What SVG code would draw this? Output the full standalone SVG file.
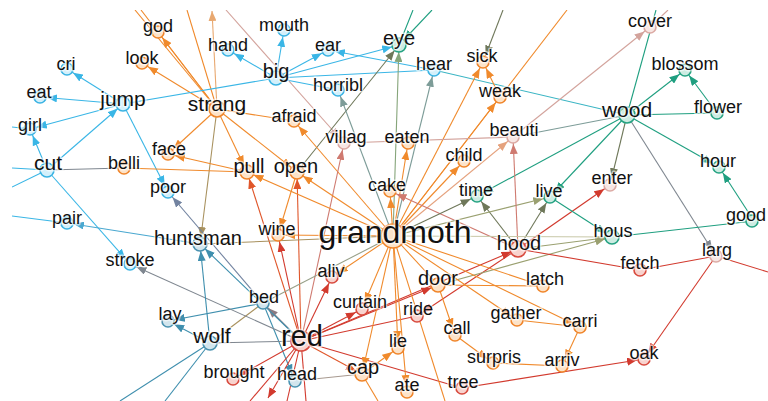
<svg xmlns="http://www.w3.org/2000/svg" width="768" height="401" viewBox="0 0 768 401">
<style>
line{fill:none;stroke-width:1.1}
.c{stroke:#3ab6e6}.c.a{marker-end:url(#mC)}
.c2{stroke:#3bb5c4}
.c3{stroke:#4aa8d0}.c3.a{marker-end:url(#mC3)}
.o{stroke:#f08a2c}.o.a{marker-end:url(#mO)}
.op{stroke:#e8a870}.op.a{marker-end:url(#mOe)}
.r{stroke:#d23a2e}.r.a{marker-end:url(#mR)}.r.e{marker-end:url(#mRe)}
.ro{stroke:#e0562a}.ro.a{marker-end:url(#mRO)}
.t{stroke:#1f9f80}.t.a{marker-end:url(#mT)}
.s{stroke:#3f8fae}.s.a{marker-end:url(#mS)}
.v{stroke:#6f785a}.v.a{marker-end:url(#mV)}
.v2{stroke:#9aa070}.v2.a{marker-end:url(#mV2)}
.p{stroke:#d3a39c}.p.a{marker-end:url(#mP)}
.pr{stroke:#cf7a70}.pr.a{marker-end:url(#mPR)}
.po{stroke:#e5a27e}.po.a{marker-end:url(#mPO)}
.k{stroke:#a8915e}.k.a{marker-end:url(#mK)}
.g{stroke:#7f8790}.g.a{marker-end:url(#mG)}
.gt{stroke:#7d9c98}.gt.a{marker-end:url(#mGT)}
.gv{stroke:#86a57a}.gv.a{marker-end:url(#mGV)}
.gv2{stroke:#98a088}
.gp{stroke:#8a7a82}.gp.a{marker-end:url(#mGP)}
.gb{stroke:#7283a0}.gb.a{marker-end:url(#mGB)}
.lo{stroke:#c8c8a8}
.hc{stroke:#a89a90}
.nd circle{stroke-width:1.6}
.nd text{font-family:"Liberation Sans",Arial,sans-serif;font-size:18px;text-anchor:middle;fill:#111;stroke:#fff;stroke-width:3;stroke-opacity:.6;stroke-linejoin:round;paint-order:stroke}
.no circle{fill:#fde3c8;stroke:#f0852a}
.nc circle{fill:#d3f0fb;stroke:#3ab3e3}
.nr circle{fill:#f8d3ce;stroke:#d84a3e}
.nt circle{fill:#cdece2;stroke:#26a383}
.ns circle{fill:#d2e5ed;stroke:#4a92b0}
.np circle{fill:#f7e6e3;stroke:#dcaaa4}
.nd text.f20{font-size:20px}
.nd text.f21{font-size:21px}
.nd text.f29{font-size:29px}
.nd text.f32{font-size:32px}
</style>
<defs>
<clipPath id="clip"><rect x="12" y="10" width="756" height="391"/></clipPath>
<marker id="mC" viewBox="0 0 10 8" refX="17" refY="4" markerWidth="10" markerHeight="8" orient="auto" markerUnits="userSpaceOnUse"><path d="M0,0L10,4L0,8z" fill="#3ab6e6"/></marker>
<marker id="mC3" viewBox="0 0 10 8" refX="17" refY="4" markerWidth="10" markerHeight="8" orient="auto" markerUnits="userSpaceOnUse"><path d="M0,0L10,4L0,8z" fill="#4aa8d0"/></marker>
<marker id="mO" viewBox="0 0 10 8" refX="17" refY="4" markerWidth="10" markerHeight="8" orient="auto" markerUnits="userSpaceOnUse"><path d="M0,0L10,4L0,8z" fill="#f08a2c"/></marker>
<marker id="mOe" viewBox="0 0 10 8" refX="10" refY="4" markerWidth="10" markerHeight="8" orient="auto" markerUnits="userSpaceOnUse"><path d="M0,0L10,4L0,8z" fill="#e8a870"/></marker>
<marker id="mR" viewBox="0 0 10 8" refX="17" refY="4" markerWidth="10" markerHeight="8" orient="auto" markerUnits="userSpaceOnUse"><path d="M0,0L10,4L0,8z" fill="#d23a2e"/></marker>
<marker id="mRe" viewBox="0 0 10 8" refX="10" refY="4" markerWidth="10" markerHeight="8" orient="auto" markerUnits="userSpaceOnUse"><path d="M0,0L10,4L0,8z" fill="#d23a2e"/></marker>
<marker id="mRO" viewBox="0 0 10 8" refX="17" refY="4" markerWidth="10" markerHeight="8" orient="auto" markerUnits="userSpaceOnUse"><path d="M0,0L10,4L0,8z" fill="#e0562a"/></marker>
<marker id="mT" viewBox="0 0 10 8" refX="17" refY="4" markerWidth="10" markerHeight="8" orient="auto" markerUnits="userSpaceOnUse"><path d="M0,0L10,4L0,8z" fill="#1f9f80"/></marker>
<marker id="mS" viewBox="0 0 10 8" refX="17" refY="4" markerWidth="10" markerHeight="8" orient="auto" markerUnits="userSpaceOnUse"><path d="M0,0L10,4L0,8z" fill="#3f8fae"/></marker>
<marker id="mV" viewBox="0 0 10 8" refX="17" refY="4" markerWidth="10" markerHeight="8" orient="auto" markerUnits="userSpaceOnUse"><path d="M0,0L10,4L0,8z" fill="#6f785a"/></marker>
<marker id="mV2" viewBox="0 0 10 8" refX="17" refY="4" markerWidth="10" markerHeight="8" orient="auto" markerUnits="userSpaceOnUse"><path d="M0,0L10,4L0,8z" fill="#9aa070"/></marker>
<marker id="mP" viewBox="0 0 10 8" refX="17" refY="4" markerWidth="10" markerHeight="8" orient="auto" markerUnits="userSpaceOnUse"><path d="M0,0L10,4L0,8z" fill="#d3a39c"/></marker>
<marker id="mPR" viewBox="0 0 10 8" refX="17" refY="4" markerWidth="10" markerHeight="8" orient="auto" markerUnits="userSpaceOnUse"><path d="M0,0L10,4L0,8z" fill="#cf7a70"/></marker>
<marker id="mPO" viewBox="0 0 10 8" refX="17" refY="4" markerWidth="10" markerHeight="8" orient="auto" markerUnits="userSpaceOnUse"><path d="M0,0L10,4L0,8z" fill="#e5a27e"/></marker>
<marker id="mK" viewBox="0 0 10 8" refX="17" refY="4" markerWidth="10" markerHeight="8" orient="auto" markerUnits="userSpaceOnUse"><path d="M0,0L10,4L0,8z" fill="#a8915e"/></marker>
<marker id="mG" viewBox="0 0 10 8" refX="17" refY="4" markerWidth="10" markerHeight="8" orient="auto" markerUnits="userSpaceOnUse"><path d="M0,0L10,4L0,8z" fill="#7f8790"/></marker>
<marker id="mGT" viewBox="0 0 10 8" refX="17" refY="4" markerWidth="10" markerHeight="8" orient="auto" markerUnits="userSpaceOnUse"><path d="M0,0L10,4L0,8z" fill="#7d9c98"/></marker>
<marker id="mGV" viewBox="0 0 10 8" refX="17" refY="4" markerWidth="10" markerHeight="8" orient="auto" markerUnits="userSpaceOnUse"><path d="M0,0L10,4L0,8z" fill="#86a57a"/></marker>
<marker id="mGP" viewBox="0 0 10 8" refX="17" refY="4" markerWidth="10" markerHeight="8" orient="auto" markerUnits="userSpaceOnUse"><path d="M0,0L10,4L0,8z" fill="#8a7a82"/></marker>
<marker id="mGB" viewBox="0 0 10 8" refX="17" refY="4" markerWidth="10" markerHeight="8" orient="auto" markerUnits="userSpaceOnUse"><path d="M0,0L10,4L0,8z" fill="#7283a0"/></marker>
</defs>
<rect width="768" height="401" fill="#fff"/>
<g id="connectors" clip-path="url(#clip)">
<line class="o" x1="135" y1="10" x2="217" y2="109"/>
<line class="o" x1="141" y1="10" x2="217" y2="109"/>
<line class="o" x1="187" y1="10" x2="217" y2="109"/>
<line class="op a" x1="217" y1="109" x2="212" y2="11"/>
<line class="p a" x1="226" y1="10" x2="344" y2="143"/>
<line class="t" x1="413" y1="10" x2="399" y2="45"/>
<line class="t a" x1="432" y1="10" x2="399" y2="45"/>
<line class="v a" x1="503" y1="10" x2="483" y2="62"/>
<line class="o" x1="393" y1="236" x2="567" y2="10"/>
<line class="t" x1="627" y1="115" x2="656" y2="10"/>
<line class="p" x1="650" y1="27" x2="668" y2="10"/>
<line class="o a" x1="217" y1="109" x2="158" y2="32"/>
<line class="o a" x1="217" y1="109" x2="142" y2="63"/>
<line class="o a" x1="217" y1="109" x2="168" y2="154"/>
<line class="o a" x1="217" y1="109" x2="247" y2="172"/>
<line class="o a" x1="217" y1="109" x2="297" y2="172"/>
<line class="o" x1="217" y1="109" x2="294" y2="121"/>
<line class="k a" x1="217" y1="109" x2="200" y2="244"/>
<line class="c a" x1="123" y1="104" x2="67" y2="69"/>
<line class="c a" x1="123" y1="104" x2="40" y2="97"/>
<line class="c a" x1="123" y1="104" x2="30" y2="129"/>
<line class="c a" x1="123" y1="104" x2="168" y2="192"/>
<line class="c a" x1="47" y1="170" x2="123" y2="104"/>
<line class="c a" x1="47" y1="170" x2="30" y2="129"/>
<line class="c a" x1="47" y1="170" x2="130" y2="264"/>
<line class="c" x1="123" y1="104" x2="276" y2="78"/>
<line class="c" x1="12" y1="127" x2="30" y2="129"/>
<line class="c" x1="12" y1="168" x2="47" y2="170"/>
<line class="c" x1="12" y1="187" x2="47" y2="170"/>
<line class="g" x1="47" y1="170" x2="124" y2="168"/>
<line class="o" x1="124" y1="168" x2="247" y2="172"/>
<line class="o a" x1="247" y1="172" x2="168" y2="154"/>
<line class="c a" x1="276" y1="78" x2="228" y2="50"/>
<line class="c a" x1="276" y1="78" x2="284" y2="30"/>
<line class="c a" x1="276" y1="78" x2="328" y2="50"/>
<line class="c a" x1="276" y1="78" x2="399" y2="45"/>
<line class="c" x1="276" y1="78" x2="434" y2="70"/>
<line class="c" x1="276" y1="78" x2="338" y2="90"/>
<line class="c a" x1="434" y1="70" x2="328" y2="50"/>
<line class="c2" x1="434" y1="70" x2="627" y2="115"/>
<line class="v a" x1="297" y1="172" x2="399" y2="45"/>
<line class="gv a" x1="393" y1="236" x2="399" y2="45"/>
<line class="gt a" x1="393" y1="236" x2="338" y2="90"/>
<line class="gt a" x1="393" y1="236" x2="434" y2="70"/>
<line class="o a" x1="393" y1="236" x2="483" y2="62"/>
<line class="o a" x1="500" y1="97" x2="483" y2="62"/>
<line class="o a" x1="393" y1="236" x2="500" y2="97"/>
<line class="o a" x1="393" y1="236" x2="294" y2="121"/>
<line class="pr a" x1="301" y1="341" x2="344" y2="143"/>
<line class="p" x1="344" y1="143" x2="513" y2="137"/>
<line class="o a" x1="393" y1="236" x2="408" y2="143"/>
<line class="o a" x1="393" y1="236" x2="464" y2="161"/>
<line class="po a" x1="393" y1="236" x2="513" y2="137"/>
<line class="o a" x1="393" y1="236" x2="390" y2="191"/>
<line class="pr a" x1="518" y1="249" x2="390" y2="191"/>
<line class="p a" x1="513" y1="137" x2="650" y2="27"/>
<line class="t a" x1="627" y1="115" x2="685" y2="70"/>
<line class="t a" x1="717" y1="113" x2="685" y2="70"/>
<line class="t" x1="627" y1="115" x2="717" y2="113"/>
<line class="gt" x1="513" y1="137" x2="627" y2="115"/>
<line class="v a" x1="627" y1="115" x2="610" y2="185"/>
<line class="t a" x1="627" y1="115" x2="550" y2="197"/>
<line class="t a" x1="627" y1="115" x2="719" y2="167"/>
<line class="t a" x1="754" y1="221" x2="719" y2="167"/>
<line class="g a" x1="627" y1="115" x2="716" y2="256"/>
<line class="t a" x1="627" y1="115" x2="477" y2="196"/>
<line class="v a" x1="518" y1="249" x2="477" y2="196"/>
<line class="v a" x1="518" y1="249" x2="550" y2="197"/>
<line class="v a" x1="393" y1="236" x2="477" y2="196"/>
<line class="v2 a" x1="393" y1="236" x2="550" y2="197"/>
<line class="pr a" x1="518" y1="249" x2="513" y2="137"/>
<line class="r a" x1="301" y1="341" x2="518" y2="249"/>
<line class="r a" x1="518" y1="249" x2="610" y2="185"/>
<line class="r a" x1="518" y1="249" x2="417" y2="316"/>
<line class="t a" x1="550" y1="197" x2="612" y2="237"/>
<line class="v2 a" x1="518" y1="249" x2="612" y2="237"/>
<line class="lo" x1="393" y1="236" x2="612" y2="237"/>
<line class="v2 a" x1="438" y1="285" x2="612" y2="237"/>
<line class="t" x1="612" y1="237" x2="754" y2="221"/>
<line class="r" x1="518" y1="249" x2="640" y2="270"/>
<line class="r" x1="640" y1="270" x2="716" y2="256"/>
<line class="r" x1="716" y1="256" x2="768" y2="272"/>
<line class="r a" x1="716" y1="256" x2="644" y2="359"/>
<line class="r a" x1="462" y1="388" x2="644" y2="359"/>
<line class="r" x1="301" y1="341" x2="462" y2="388"/>
<line class="o a" x1="297" y1="172" x2="278" y2="235"/>
<line class="o a" x1="393" y1="236" x2="278" y2="235"/>
<line class="r a" x1="301" y1="341" x2="278" y2="235"/>
<line class="ro a" x1="301" y1="341" x2="247" y2="172"/>
<line class="ro a" x1="301" y1="341" x2="297" y2="172"/>
<line class="o a" x1="393" y1="236" x2="247" y2="172"/>
<line class="o a" x1="393" y1="236" x2="297" y2="172"/>
<line class="k" x1="200" y1="244" x2="393" y2="236"/>
<line class="r a" x1="301" y1="341" x2="332" y2="277"/>
<line class="o a" x1="393" y1="236" x2="332" y2="277"/>
<line class="o a" x1="393" y1="236" x2="362" y2="309"/>
<line class="r a" x1="301" y1="341" x2="362" y2="309"/>
<line class="r a" x1="301" y1="341" x2="438" y2="285"/>
<line class="r" x1="301" y1="341" x2="417" y2="316"/>
<line class="o a" x1="393" y1="236" x2="398" y2="348"/>
<line class="o a" x1="393" y1="236" x2="362" y2="374"/>
<line class="o a" x1="362" y1="374" x2="398" y2="348"/>
<line class="o a" x1="393" y1="236" x2="407" y2="392"/>
<line class="o" x1="393" y1="236" x2="438" y2="285"/>
<line class="o a" x1="438" y1="285" x2="455" y2="335"/>
<line class="o a" x1="455" y1="335" x2="493" y2="363"/>
<line class="o a" x1="393" y1="236" x2="517" y2="320"/>
<line class="o" x1="438" y1="285" x2="543" y2="286"/>
<line class="o" x1="393" y1="236" x2="543" y2="286"/>
<line class="o a" x1="393" y1="236" x2="580" y2="327"/>
<line class="o" x1="517" y1="320" x2="580" y2="327"/>
<line class="o a" x1="580" y1="327" x2="562" y2="366"/>
<line class="o" x1="493" y1="363" x2="562" y2="366"/>
<line class="ro a" x1="301" y1="341" x2="362" y2="374"/>
<line class="hc" x1="295" y1="381" x2="362" y2="374"/>
<line class="s a" x1="263" y1="303" x2="295" y2="381"/>
<line class="gp a" x1="301" y1="341" x2="263" y2="303"/>
<line class="r a" x1="301" y1="341" x2="233" y2="379"/>
<line class="r e" x1="301" y1="341" x2="268" y2="398"/>
<line class="r" x1="301" y1="341" x2="250" y2="401"/>
<line class="r" x1="301" y1="341" x2="287" y2="401"/>
<line class="r" x1="301" y1="341" x2="306" y2="401"/>
<line class="o" x1="362" y1="374" x2="378" y2="401"/>
<line class="o" x1="393" y1="236" x2="445" y2="401"/>
<line class="s a" x1="263" y1="303" x2="168" y2="321"/>
<line class="s a" x1="210" y1="343" x2="168" y2="321"/>
<line class="g" x1="210" y1="343" x2="301" y2="341"/>
<line class="k" x1="210" y1="343" x2="263" y2="303"/>
<line class="g a" x1="301" y1="341" x2="130" y2="264"/>
<line class="s a" x1="210" y1="343" x2="200" y2="244"/>
<line class="s a" x1="301" y1="341" x2="200" y2="244"/>
<line class="gb a" x1="263" y1="303" x2="168" y2="192"/>
<line class="s" x1="210" y1="343" x2="120" y2="401"/>
<line class="s" x1="210" y1="343" x2="165" y2="401"/>
<line class="c3 a" x1="200" y1="244" x2="67" y2="223"/>
<line class="c" x1="12" y1="216" x2="67" y2="223"/>
<line class="gv2" x1="263" y1="303" x2="393" y2="236"/>
</g>
<g id="n-god" class="nd no"><circle cx="158" cy="32" r="6"/><text x="158" y="32">god</text></g>
<g id="n-look" class="nd no"><circle cx="142" cy="63" r="6"/><text x="142" y="64">look</text></g>
<g id="n-hand" class="nd nc"><circle cx="228" cy="50" r="6"/><text x="228" y="51">hand</text></g>
<g id="n-cri" class="nd nc"><circle cx="67" cy="69" r="6"/><text x="66" y="70">cri</text></g>
<g id="n-eat" class="nd nc"><circle cx="40" cy="97" r="6"/><text x="39" y="98">eat</text></g>
<g id="n-jump" class="nd nc"><circle cx="123" cy="104" r="7"/><text class="f21" x="123" y="106">jump</text></g>
<g id="n-girl" class="nd nc"><circle cx="30" cy="129" r="6"/><text x="30" y="131">girl</text></g>
<g id="n-strang" class="nd no"><circle cx="217" cy="109" r="8"/><text class="f21" x="217" y="111">strang</text></g>
<g id="n-face" class="nd no"><circle cx="168" cy="154" r="6"/><text x="169" y="155">face</text></g>
<g id="n-cut" class="nd nc"><circle cx="47" cy="170" r="7"/><text class="f21" x="48" y="170">cut</text></g>
<g id="n-belli" class="nd no"><circle cx="124" cy="168" r="6"/><text x="124" y="169">belli</text></g>
<g id="n-poor" class="nd nc"><circle cx="168" cy="192" r="6"/><text x="168" y="193">poor</text></g>
<g id="n-pull" class="nd no"><circle cx="247" cy="172" r="7"/><text class="f20" x="249" y="173">pull</text></g>
<g id="n-open" class="nd no"><circle cx="297" cy="172" r="7"/><text class="f20" x="296" y="173">open</text></g>
<g id="n-afraid" class="nd no"><circle cx="294" cy="121" r="6"/><text x="294" y="122">afraid</text></g>
<g id="n-mouth" class="nd nc"><circle cx="284" cy="30" r="6"/><text x="284" y="31">mouth</text></g>
<g id="n-ear" class="nd nc"><circle cx="328" cy="50" r="6"/><text x="328" y="51">ear</text></g>
<g id="n-eye" class="nd nt"><circle cx="399" cy="45" r="7"/><text class="f20" x="399" y="45">eye</text></g>
<g id="n-big" class="nd nc"><circle cx="276" cy="78" r="7"/><text class="f20" x="276" y="78">big</text></g>
<g id="n-horribl" class="nd nc"><circle cx="338" cy="90" r="6"/><text x="338" y="91">horribl</text></g>
<g id="n-hear" class="nd nc"><circle cx="434" cy="70" r="6"/><text x="434" y="70">hear</text></g>
<g id="n-sick" class="nd no"><circle cx="483" cy="62" r="6"/><text x="482" y="62">sick</text></g>
<g id="n-weak" class="nd no"><circle cx="500" cy="97" r="6"/><text x="500" y="97">weak</text></g>
<g id="n-villag" class="nd np"><circle cx="344" cy="143" r="6"/><text x="346" y="143">villag</text></g>
<g id="n-eaten" class="nd no"><circle cx="408" cy="143" r="6"/><text x="407" y="143">eaten</text></g>
<g id="n-beauti" class="nd np"><circle cx="513" cy="137" r="6"/><text x="514" y="136">beauti</text></g>
<g id="n-child" class="nd no"><circle cx="464" cy="161" r="6"/><text x="464" y="161">child</text></g>
<g id="n-cake" class="nd no"><circle cx="390" cy="191" r="6"/><text x="387" y="191">cake</text></g>
<g id="n-time" class="nd nt"><circle cx="477" cy="196" r="6"/><text x="476" y="196">time</text></g>
<g id="n-live" class="nd nt"><circle cx="550" cy="197" r="6"/><text x="549" y="197">live</text></g>
<g id="n-enter" class="nd np"><circle cx="610" cy="185" r="6"/><text x="612" y="184">enter</text></g>
<g id="n-hood" class="nd nr"><circle cx="518" cy="249" r="8"/><text class="f20" x="519" y="250">hood</text></g>
<g id="n-hous" class="nd nt"><circle cx="612" cy="237" r="7"/><text x="613" y="237">hous</text></g>
<g id="n-latch" class="nd no"><circle cx="543" cy="286" r="6"/><text x="545" y="285">latch</text></g>
<g id="n-wood" class="nd nt"><circle cx="627" cy="115" r="8"/><text class="f21" x="627" y="117">wood</text></g>
<g id="n-cover" class="nd np"><circle cx="650" cy="27" r="6"/><text x="650" y="27">cover</text></g>
<g id="n-blossom" class="nd nt"><circle cx="685" cy="70" r="6"/><text x="685" y="70">blossom</text></g>
<g id="n-flower" class="nd nt"><circle cx="717" cy="113" r="6"/><text x="718" y="113">flower</text></g>
<g id="n-hour" class="nd nt"><circle cx="719" cy="167" r="6"/><text x="718" y="167">hour</text></g>
<g id="n-good" class="nd nt"><circle cx="752" cy="221" r="6"/><text x="746" y="221">good</text></g>
<g id="n-larg" class="nd np"><circle cx="716" cy="256" r="6"/><text x="717" y="256">larg</text></g>
<g id="n-fetch" class="nd nr"><circle cx="640" cy="270" r="6"/><text x="640" y="269">fetch</text></g>
<g id="n-carri" class="nd no"><circle cx="580" cy="327" r="6"/><text x="580" y="327">carri</text></g>
<g id="n-arriv" class="nd no"><circle cx="562" cy="366" r="6"/><text x="562" y="366">arriv</text></g>
<g id="n-oak" class="nd nr"><circle cx="644" cy="359" r="6"/><text x="644" y="359">oak</text></g>
<g id="n-gather" class="nd no"><circle cx="517" cy="320" r="6"/><text x="516" y="319">gather</text></g>
<g id="n-call" class="nd no"><circle cx="455" cy="335" r="6"/><text x="457" y="334">call</text></g>
<g id="n-surpris" class="nd no"><circle cx="493" cy="363" r="6"/><text x="494" y="363">surpris</text></g>
<g id="n-tree" class="nd nr"><circle cx="462" cy="388" r="6"/><text x="463" y="388">tree</text></g>
<g id="n-ate" class="nd no"><circle cx="407" cy="392" r="6"/><text x="407" y="391">ate</text></g>
<g id="n-lie" class="nd no"><circle cx="398" cy="348" r="6"/><text x="398" y="347">lie</text></g>
<g id="n-cap" class="nd no"><circle cx="362" cy="374" r="7"/><text class="f20" x="363" y="374">cap</text></g>
<g id="n-ride" class="nd nr"><circle cx="417" cy="316" r="6"/><text x="418" y="315">ride</text></g>
<g id="n-curtain" class="nd nr"><circle cx="362" cy="309" r="6"/><text x="360" y="308">curtain</text></g>
<g id="n-door" class="nd no"><circle cx="438" cy="285" r="7"/><text class="f20" x="438" y="285">door</text></g>
<g id="n-aliv" class="nd nr"><circle cx="332" cy="277" r="6"/><text x="331" y="277">aliv</text></g>
<g id="n-wine" class="nd no"><circle cx="278" cy="235" r="6"/><text x="277" y="235">wine</text></g>
<g id="n-grandmoth" class="nd no"><circle cx="393" cy="236" r="12"/><text class="f32" x="395" y="243">grandmoth</text></g>
<g id="n-red" class="nd nr"><circle cx="301" cy="341" r="10"/><text class="f29" x="302" y="346">red</text></g>
<g id="n-head" class="nd ns"><circle cx="295" cy="381" r="6"/><text x="297" y="380">head</text></g>
<g id="n-brought" class="nd nr"><circle cx="233" cy="379" r="6"/><text x="234" y="378">brought</text></g>
<g id="n-wolf" class="nd ns"><circle cx="210" cy="343" r="7"/><text class="f21" x="212" y="343">wolf</text></g>
<g id="n-lay" class="nd ns"><circle cx="168" cy="321" r="6"/><text x="170" y="320">lay</text></g>
<g id="n-bed" class="nd ns"><circle cx="263" cy="303" r="6"/><text x="264" y="303">bed</text></g>
<g id="n-huntsman" class="nd ns"><circle cx="200" cy="244" r="7"/><text class="f20" x="198" y="245">huntsman</text></g>
<g id="n-stroke" class="nd nc"><circle cx="130" cy="264" r="6"/><text x="130" y="266">stroke</text></g>
<g id="n-pair" class="nd nc"><circle cx="67" cy="223" r="6"/><text x="67" y="224">pair</text></g>
</svg>
